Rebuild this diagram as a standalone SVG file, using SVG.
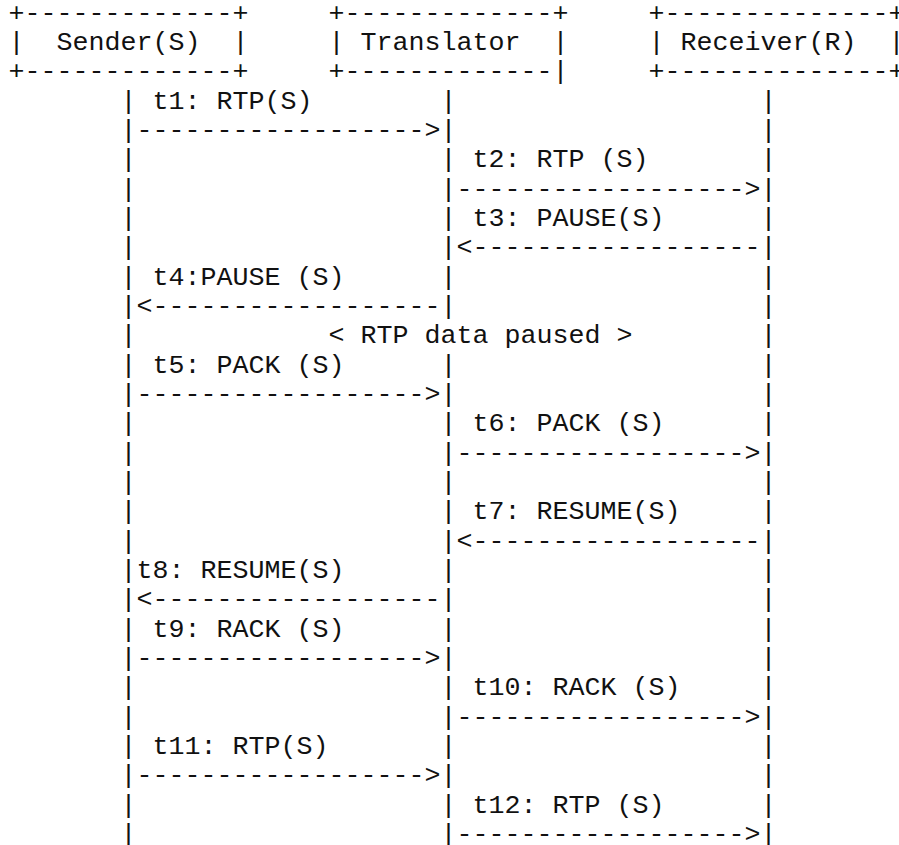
<svg xmlns="http://www.w3.org/2000/svg" width="899" height="845" viewBox="0 0 899 845">
<style>
text{font-family:"Liberation Mono","Courier New",monospace;font-size:26.667px;fill:#111;white-space:pre}
</style>
<rect width="899" height="845" fill="#fff"/>
<g id="sender" xml:space="preserve">
<text x="8.5" y="20.7">+-------------+</text>
<text x="8.5" y="50.03">|  Sender(S)  |</text>
<text x="8.5" y="79.36">+-------------+</text>
</g>
<g id="translator" xml:space="preserve">
<text x="328.5" y="20.7">+-------------+</text>
<text x="328.5" y="50.03">| Translator  |</text>
<text x="328.5" y="79.36">+-------------|</text>
</g>
<g id="receiver" xml:space="preserve">
<text x="648.5" y="20.7">+--------------+</text>
<text x="648.5" y="50.03">| Receiver(R)  |</text>
<text x="648.5" y="79.36">+--------------+</text>
</g>
<g id="lifelines">
<text x="120.5"><tspan x="120.5" y="108.69">|</tspan><tspan x="120.5" y="138.02">|</tspan><tspan x="120.5" y="167.35">|</tspan><tspan x="120.5" y="196.68">|</tspan><tspan x="120.5" y="226.01">|</tspan><tspan x="120.5" y="255.34">|</tspan><tspan x="120.5" y="284.67">|</tspan><tspan x="120.5" y="314">|</tspan><tspan x="120.5" y="343.33">|</tspan><tspan x="120.5" y="372.66">|</tspan><tspan x="120.5" y="401.99">|</tspan><tspan x="120.5" y="431.32">|</tspan><tspan x="120.5" y="460.65">|</tspan><tspan x="120.5" y="489.98">|</tspan><tspan x="120.5" y="519.31">|</tspan><tspan x="120.5" y="548.64">|</tspan><tspan x="120.5" y="577.97">|</tspan><tspan x="120.5" y="607.3">|</tspan><tspan x="120.5" y="636.63">|</tspan><tspan x="120.5" y="665.96">|</tspan><tspan x="120.5" y="695.29">|</tspan><tspan x="120.5" y="724.62">|</tspan><tspan x="120.5" y="753.95">|</tspan><tspan x="120.5" y="783.28">|</tspan><tspan x="120.5" y="812.61">|</tspan><tspan x="120.5" y="841.94">|</tspan></text>
<text x="440.5"><tspan x="440.5" y="108.69">|</tspan><tspan x="440.5" y="138.02">|</tspan><tspan x="440.5" y="167.35">|</tspan><tspan x="440.5" y="196.68">|</tspan><tspan x="440.5" y="226.01">|</tspan><tspan x="440.5" y="255.34">|</tspan><tspan x="440.5" y="284.67">|</tspan><tspan x="440.5" y="314">|</tspan><tspan x="440.5" y="372.66">|</tspan><tspan x="440.5" y="401.99">|</tspan><tspan x="440.5" y="431.32">|</tspan><tspan x="440.5" y="460.65">|</tspan><tspan x="440.5" y="489.98">|</tspan><tspan x="440.5" y="519.31">|</tspan><tspan x="440.5" y="548.64">|</tspan><tspan x="440.5" y="577.97">|</tspan><tspan x="440.5" y="607.3">|</tspan><tspan x="440.5" y="636.63">|</tspan><tspan x="440.5" y="665.96">|</tspan><tspan x="440.5" y="695.29">|</tspan><tspan x="440.5" y="724.62">|</tspan><tspan x="440.5" y="753.95">|</tspan><tspan x="440.5" y="783.28">|</tspan><tspan x="440.5" y="812.61">|</tspan><tspan x="440.5" y="841.94">|</tspan></text>
<text x="760.5"><tspan x="760.5" y="108.69">|</tspan><tspan x="760.5" y="138.02">|</tspan><tspan x="760.5" y="167.35">|</tspan><tspan x="760.5" y="196.68">|</tspan><tspan x="760.5" y="226.01">|</tspan><tspan x="760.5" y="255.34">|</tspan><tspan x="760.5" y="284.67">|</tspan><tspan x="760.5" y="314">|</tspan><tspan x="760.5" y="343.33">|</tspan><tspan x="760.5" y="372.66">|</tspan><tspan x="760.5" y="401.99">|</tspan><tspan x="760.5" y="431.32">|</tspan><tspan x="760.5" y="460.65">|</tspan><tspan x="760.5" y="489.98">|</tspan><tspan x="760.5" y="519.31">|</tspan><tspan x="760.5" y="548.64">|</tspan><tspan x="760.5" y="577.97">|</tspan><tspan x="760.5" y="607.3">|</tspan><tspan x="760.5" y="636.63">|</tspan><tspan x="760.5" y="665.96">|</tspan><tspan x="760.5" y="695.29">|</tspan><tspan x="760.5" y="724.62">|</tspan><tspan x="760.5" y="753.95">|</tspan><tspan x="760.5" y="783.28">|</tspan><tspan x="760.5" y="812.61">|</tspan><tspan x="760.5" y="841.94">|</tspan></text>
</g>
<g id="connectors">
<text x="136.5" y="138.02">------------------&gt;</text>
<text x="456.5" y="196.68">------------------&gt;</text>
<text x="456.5" y="255.34">&lt;------------------</text>
<text x="136.5" y="314">&lt;------------------</text>
<text x="136.5" y="401.99">------------------&gt;</text>
<text x="456.5" y="460.65">------------------&gt;</text>
<text x="456.5" y="548.64">&lt;------------------</text>
<text x="136.5" y="607.3">&lt;------------------</text>
<text x="136.5" y="665.96">------------------&gt;</text>
<text x="456.5" y="724.62">------------------&gt;</text>
<text x="136.5" y="783.28">------------------&gt;</text>
<text x="456.5" y="841.94">------------------&gt;</text>
</g>
<g id="labels" xml:space="preserve">
<text x="152.5" y="108.69">t1: RTP(S)</text>
<text x="472.5" y="167.35">t2: RTP (S)</text>
<text x="472.5" y="226.01">t3: PAUSE(S)</text>
<text x="152.5" y="284.67">t4:PAUSE (S)</text>
<text x="328.5" y="343.33">&lt; RTP data paused &gt;</text>
<text x="152.5" y="372.66">t5: PACK (S)</text>
<text x="472.5" y="431.32">t6: PACK (S)</text>
<text x="472.5" y="519.31">t7: RESUME(S)</text>
<text x="136.5" y="577.97">t8: RESUME(S)</text>
<text x="152.5" y="636.63">t9: RACK (S)</text>
<text x="472.5" y="695.29">t10: RACK (S)</text>
<text x="152.5" y="753.95">t11: RTP(S)</text>
<text x="472.5" y="812.61">t12: RTP (S)</text>
</g>
</svg>
